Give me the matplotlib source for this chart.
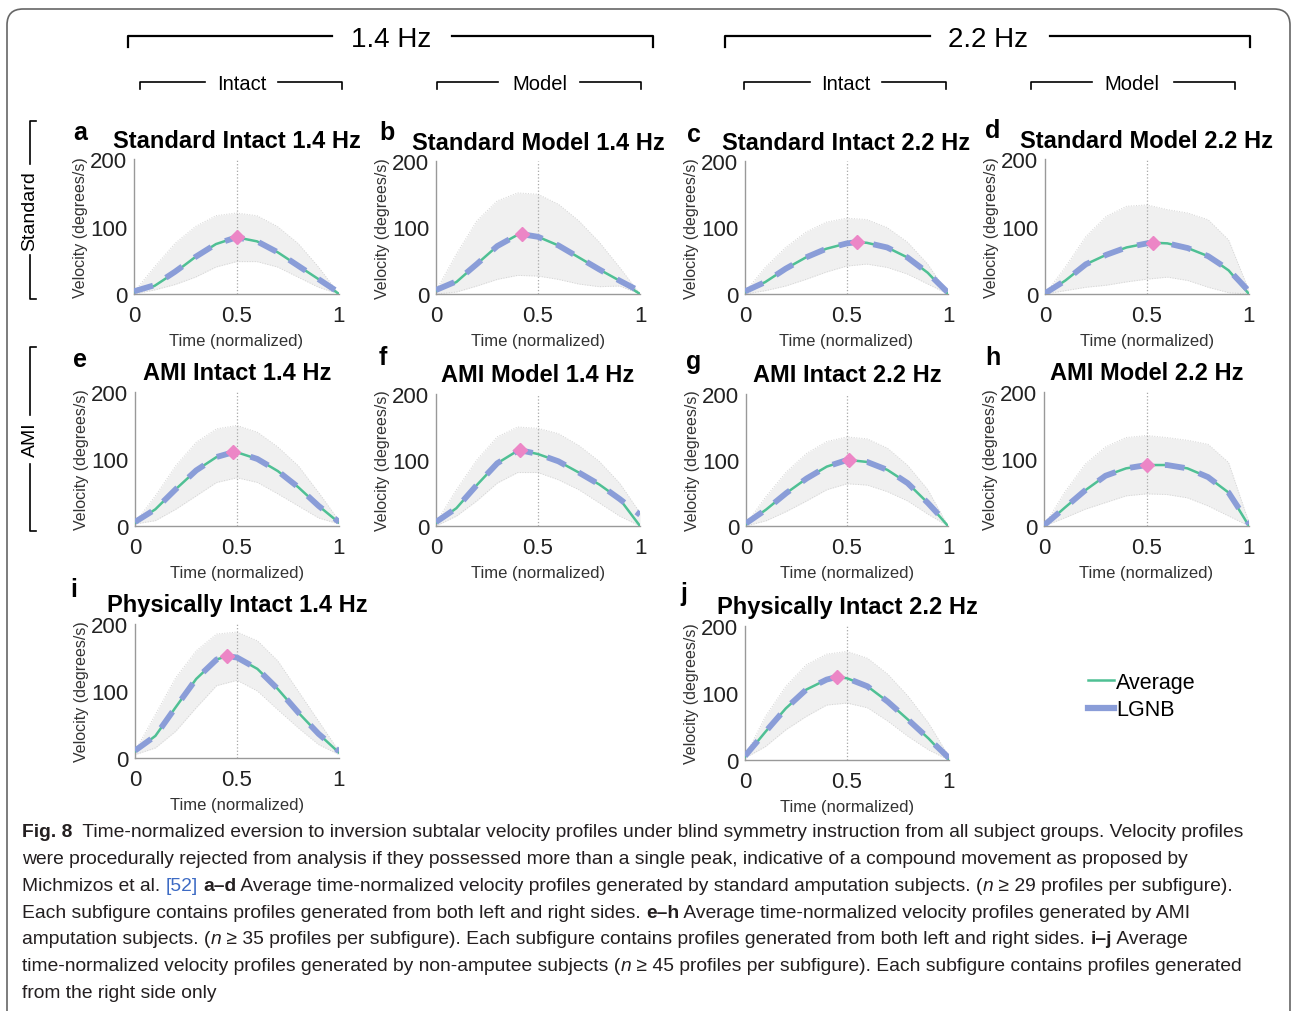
import numpy as np
import matplotlib
matplotlib.use('Agg')
import matplotlib.pyplot as plt
from matplotlib.lines import Line2D
from matplotlib.patches import FancyBboxPatch
from matplotlib.transforms import IdentityTransform

W, H = 1291, 1012

# normalized time samples
t = [0.0, 0.1, 0.2, 0.3, 0.4, 0.5, 0.6, 0.7, 0.8, 0.9, 1.0]

titles = ['Standard Intact 1.4 Hz', 'Standard Model 1.4 Hz', 'Standard Intact 2.2 Hz', 'Standard Model 2.2 Hz',
          'AMI Intact 1.4 Hz', 'AMI Model 1.4 Hz', 'AMI Intact 2.2 Hz', 'AMI Model 2.2 Hz',
          'Physically Intact 1.4 Hz', 'Physically Intact 2.2 Hz']
letters = ['a', 'b', 'c', 'd', 'e', 'f', 'g', 'h', 'i', 'j']

# average velocity (degrees/s)
avg = [
    [3, 12, 32, 55, 74, 84, 78, 62, 42, 22, 0],
    [5, 18, 45, 72, 89, 86, 73, 55, 37, 20, 0],
    [3, 18, 38, 55, 68, 76, 77, 70, 55, 32, 0],
    [0, 20, 44, 58, 69, 75, 75, 68, 56, 35, 0],
    [5, 25, 55, 83, 103, 110, 100, 82, 58, 30, 5],
    [5, 27, 62, 95, 114, 109, 98, 81, 63, 41, 0],
    [3, 25, 50, 72, 90, 100, 97, 85, 65, 35, 0],
    [0, 27, 53, 75, 86, 91, 91, 86, 73, 50, 0],
    [10, 33, 76, 118, 147, 150, 133, 103, 68, 36, 8],
    [5, 42, 77, 105, 120, 122, 110, 87, 60, 32, 0],
]
# LGNB fit
lgnb = [
    [4, 13, 33, 55, 74, 84, 78, 62, 42, 22, 2],
    [6, 19, 45, 72, 89, 86, 73, 55, 37, 20, 4],
    [4, 18, 38, 55, 68, 76, 77, 70, 55, 32, 2],
    [1, 20, 44, 58, 69, 75, 75, 68, 56, 36, 4],
    [6, 25, 55, 83, 103, 110, 100, 82, 58, 30, 6],
    [6, 27, 62, 95, 114, 109, 98, 81, 63, 41, 17],
    [4, 25, 50, 72, 90, 100, 97, 85, 65, 35, 2],
    [1, 27, 53, 75, 86, 91, 91, 86, 73, 50, 3],
    [11, 33, 76, 118, 147, 150, 133, 103, 68, 36, 10],
    [6, 42, 77, 105, 120, 122, 110, 87, 60, 32, 3],
]
# band (upper / lower)
upper = [
    [3, 40, 75, 100, 116, 120, 116, 100, 75, 40, 0],
    [5, 60, 110, 140, 152, 150, 135, 110, 78, 40, 0],
    [3, 40, 70, 93, 108, 114, 112, 100, 78, 45, 0],
    [0, 40, 85, 115, 130, 132, 125, 120, 110, 80, 5],
    [5, 45, 90, 125, 145, 150, 140, 118, 90, 50, 8],
    [5, 55, 100, 135, 150, 148, 140, 122, 98, 65, 20],
    [3, 45, 82, 110, 128, 135, 132, 118, 92, 55, 0],
    [0, 50, 92, 118, 132, 135, 132, 128, 122, 95, 5],
    [10, 65, 120, 160, 185, 188, 175, 145, 100, 55, 10],
    [5, 65, 110, 142, 158, 162, 152, 128, 95, 55, 5],
]
lower = [
    [0, 6, 14, 25, 40, 48, 48, 40, 25, 10, 0],
    [0, 3, 12, 22, 28, 27, 22, 15, 11, 12, 0],
    [0, 5, 12, 22, 33, 42, 45, 40, 30, 15, 0],
    [0, 5, 10, 13, 18, 22, 25, 20, 10, 2, 0],
    [3, 8, 25, 45, 65, 72, 65, 48, 30, 12, 3],
    [0, 15, 38, 65, 81, 81, 70, 55, 35, 15, 0],
    [0, 8, 22, 38, 55, 64, 62, 52, 38, 18, 0],
    [0, 12, 25, 35, 45, 48, 47, 42, 30, 15, 0],
    [5, 15, 40, 75, 108, 116, 100, 72, 45, 20, 5],
    [3, 20, 45, 65, 82, 85, 78, 58, 35, 15, 0],
]
peak_t = [0.50, 0.42, 0.55, 0.53, 0.48, 0.41, 0.51, 0.50, 0.45, 0.45]
peak_v = [84, 90, 78, 76, 110, 115, 100, 91, 152, 124]

# axes boxes in pixels: left, top, right, bottom
boxes = [(134, 160, 339, 295), (436, 162, 640, 295), (745, 162, 948, 295), (1045, 160, 1249, 295),
         (135, 393, 339, 527), (436, 395, 640, 527), (746, 395, 948, 527), (1044, 393, 1249, 527),
         (135, 625, 339, 759), (745, 627, 949, 761)]
letter_pos = [(80, 133), (387, 133), (694, 135), (993, 131), (80, 360), (383, 358),
              (694, 362), (993, 358), (74, 590), (684, 594)]

green = '#4fc094'
blue = '#8a9dd8'
pink = '#ec86c6'
grid_gray = '#999999'

plt.rcParams['font.family'] = ['Liberation Sans', 'DejaVu Sans']

fig = plt.figure(figsize=(W / 100, H / 100), dpi=100)


def fx(x):
    return x / W


def fy(y):
    return 1 - y / H


for k in range(10):
    l, tp, r, b = boxes[k]
    ax = fig.add_axes([fx(l), fy(b), (r - l) / W, (b - tp) / H])
    tt = np.array(t)
    ax.fill_between(tt, lower[k], upper[k], color='#f0f0f0', lw=0, zorder=1)
    ax.plot(tt, upper[k], color='#d4d4d4', lw=0.7, ls=':', zorder=1.5)
    ax.plot(tt, lower[k], color='#d4d4d4', lw=0.7, ls=':', zorder=1.5)
    ax.plot([0.5, 0.5], [0, 200], color='#a8a8a8', lw=0.9, ls=':', zorder=2)

    idx = int(np.searchsorted(tt, peak_t[k]))
    xs = np.insert(tt, idx, peak_t[k])
    ys_avg = np.insert(np.array(avg[k], float), idx, peak_v[k])
    ys_lg = np.insert(np.array(lgnb[k], float), idx, peak_v[k])
    ax.plot(xs, ys_avg, color=green, lw=1.8, zorder=3)
    ax.plot(xs, ys_lg, color=blue, lw=4.2, dashes=(3.4, 2.6), dash_capstyle='butt', zorder=4)
    ax.plot([peak_t[k]], [peak_v[k]], marker='D', ms=7, color=pink, mec=pink, zorder=5, clip_on=False)

    ax.set_xlim(0, 1)
    ax.set_ylim(0, 200)
    ax.set_xticks([0, 0.5, 1])
    ax.set_xticklabels(['0', '0.5', '1'])
    ax.set_yticks([0, 100, 200])
    ax.tick_params(length=0, labelsize=16, colors='#222222')
    ax.tick_params(axis='x', pad=8)
    ax.tick_params(axis='y', pad=5)
    for s in ['top', 'right']:
        ax.spines[s].set_visible(False)
    for s in ['left', 'bottom']:
        ax.spines[s].set_color(grid_gray)
        ax.spines[s].set_linewidth(1.0)
    ax.set_facecolor('none')
    ax.set_ylabel('Velocity (degrees/s)', fontsize=11.5, color='#333333', labelpad=1)
    ax.set_xlabel('Time (normalized)', fontsize=12, color='#333333', labelpad=5)
    ax.set_title(titles[k], fontsize=17, fontweight='bold', pad=9)
    fig.text(fx(letter_pos[k][0]), fy(letter_pos[k][1]), letters[k], fontsize=18, fontweight='bold',
             ha='center', va='center')


def hbracket(x0, x1, y, g0, g1, tick, lw):
    fig.add_artist(Line2D([fx(x0), fx(x0), fx(g0)], [fy(y + tick), fy(y), fy(y)],
                          color='black', lw=lw, transform=fig.transFigure))
    fig.add_artist(Line2D([fx(g1), fx(x1), fx(x1)], [fy(y), fy(y), fy(y + tick)],
                          color='black', lw=lw, transform=fig.transFigure))


def vbracket(x, y0, y1, g0, g1, tick, lw):
    fig.add_artist(Line2D([fx(x + tick), fx(x), fx(x)], [fy(y0), fy(y0), fy(g0)],
                          color='black', lw=lw, transform=fig.transFigure))
    fig.add_artist(Line2D([fx(x), fx(x), fx(x + tick)], [fy(g1), fy(y1), fy(y1)],
                          color='black', lw=lw, transform=fig.transFigure))


# frequency headers
hbracket(128, 653, 37, 332, 452, 11, 1.6)
fig.text(fx(391), fy(40), '1.4 Hz', fontsize=20, ha='center', va='center')
hbracket(725, 1250, 37, 930, 1050, 11, 1.6)
fig.text(fx(988), fy(40), '2.2 Hz', fontsize=20, ha='center', va='center')

# intact / model sub headers
sub = [(140, 342, 205, 278, 'Intact', 242), (437, 641, 498, 580, 'Model', 540),
       (744, 946, 810, 882, 'Intact', 846), (1031, 1235, 1092, 1174, 'Model', 1132)]
for x0, x1, g0, g1, lab, xc in sub:
    hbracket(x0, x1, 83, g0, g1, 7, 1.2)
    fig.text(fx(xc), fy(84), lab, fontsize=14.5, ha='center', va='center')

# row headers
vbracket(30, 122, 300, 165, 256, 6, 1.2)
fig.text(fx(30), fy(211), 'Standard', fontsize=14, rotation=90, ha='center', va='center')
vbracket(30, 348, 532, 416, 465, 6, 1.2)
fig.text(fx(30), fy(440), 'AMI', fontsize=14, rotation=90, ha='center', va='center')

# legend
handles = [Line2D([], [], color=green, lw=1.8), Line2D([], [], color=blue, lw=4.5)]
fig.legend(handles, ['Average', 'LGNB'], loc='upper left', bbox_to_anchor=(fx(1088), fy(673)),
           frameon=False, fontsize=15.5, handlelength=1.2, handletextpad=0.1, labelspacing=0.3,
           borderpad=0, borderaxespad=0)

# border
fig.add_artist(FancyBboxPatch((7, -30), 1283, 1012 - 10 + 30, boxstyle='round,pad=0,rounding_size=16',
                              transform=IdentityTransform(), fill=False, ec='#666666', lw=1.2))

# caption
cap_family = ['Liberation Sans Narrow', 'Liberation Sans', 'DejaVu Sans']
caption = [
    [('b', 'Fig. 8'), ('r', '  Time-normalized eversion to inversion subtalar velocity profiles under blind symmetry instruction from all subject groups. Velocity profiles')],
    [('r', 'were procedurally rejected from analysis if they possessed more than a single peak, indicative of a compound movement as proposed by')],
    [('r', 'Michmizos et al. '), ('l', '[52]'), ('r', ' '), ('b', 'a\u2013d'), ('r', ' Average time-normalized velocity profiles generated by standard amputation subjects. ('),
     ('i', 'n'), ('r', ' \u2265 29 profiles per subfigure).')],
    [('r', 'Each subfigure contains profiles generated from both left and right sides. '), ('b', 'e\u2013h'),
     ('r', ' Average time-normalized velocity profiles generated by AMI')],
    [('r', 'amputation subjects. ('), ('i', 'n'), ('r', ' \u2265 35 profiles per subfigure). Each subfigure contains profiles generated from both left and right sides. '),
     ('b', 'i\u2013j'), ('r', ' Average')],
    [('r', 'time-normalized velocity profiles generated by non-amputee subjects ('), ('i', 'n'),
     ('r', ' \u2265 45 profiles per subfigure). Each subfigure contains profiles generated')],
    [('r', 'from the right side only')],
]
renderer = fig.canvas.get_renderer()


def style_kw(kind):
    kw = dict(family=cap_family, color='#231f20')
    if kind == 'b':
        kw['fontweight'] = 'bold'
    elif kind == 'i':
        kw['style'] = 'italic'
    elif kind == 'l':
        kw['color'] = '#3d6bc4'
    return kw


def run_width(s, size, kind):
    a = fig.text(0, 0, s + '.', fontsize=size, **style_kw(kind))
    d = fig.text(0, 0, '.', fontsize=size, **style_kw(kind))
    w = a.get_window_extent(renderer).width - d.get_window_extent(renderer).width
    a.remove()
    d.remove()
    return w


w10 = sum(run_width(s, 10, k) for k, s in caption[0])
cap_size = 10 * (1250 - 22) / w10
for n, line in enumerate(caption):
    x = 22
    y = 833 + n * 26.7
    for kind, s in line:
        fig.text(fx(x), fy(y), s, fontsize=cap_size, va='center', ha='left', **style_kw(kind))
        x += run_width(s, cap_size, kind)

fig.savefig('out.png', dpi=100)
